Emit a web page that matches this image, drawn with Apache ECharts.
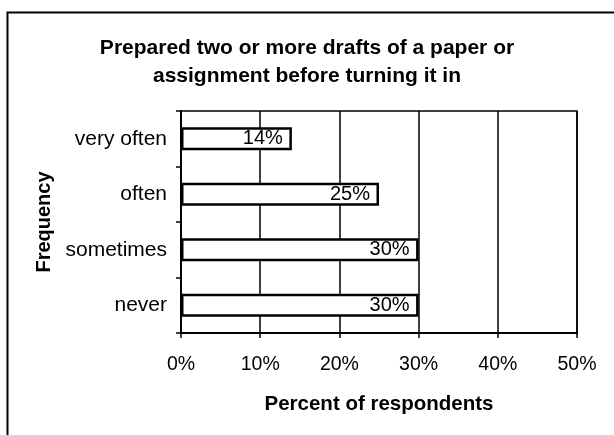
<!DOCTYPE html>
<html>
<head>
<meta charset="utf-8">
<script src="https://cdn.jsdelivr.net/npm/echarts@6/dist/echarts.min.js"></script>
<style>
  html, body { margin: 0; padding: 0; background: #fff; }
  #chart { width: 614px; height: 435px; }
</style>
</head>
<body>
<div id="chart"></div>
<script>
const categories = ["never", "sometimes", "often", "very often"];
const percents = [30, 30, 25, 14];
const tickLabels = ["0%", "10%", "20%", "30%", "40%", "50%"];

const font = "'Liberation Sans', Arial, sans-serif";
const chart = echarts.init(document.getElementById("chart"));

chart.setOption({
  backgroundColor: "#fff",
  animation: false,
  title: {
    text: "Prepared two or more drafts of a paper or\nassignment before turning it in",
    left: "center",
    top: 29,
    textStyle: {
      fontFamily: font,
      fontSize: 21,
      fontWeight: "bold",
      color: "#000",
      lineHeight: 28,
    },
  },
  graphic: [
    {
      type: "rect",
      left: 5,
      top: 10,
      shape: { width: 640, height: 460 },
      style: { fill: "none", stroke: "#000", lineWidth: 2 },
      silent: true,
    },
  ],
  grid: {
    left: 181,
    right: 37,
    top: 111,
    bottom: 102,
    show: true,
    borderColor: "#000",
    borderWidth: 1.5,
  },
  xAxis: {
    type: "value",
    min: 0,
    max: 50,
    interval: 10,
    name: "Percent of respondents",
    nameLocation: "middle",
    nameGap: 61,
    nameTextStyle: { fontFamily: font, fontSize: 20.5, fontWeight: "bold", color: "#000" },
    axisLine: { show: true, lineStyle: { color: "#000", width: 2 } },
    axisTick: { show: true, length: 5, lineStyle: { color: "#000", width: 1.5 } },
    axisLabel: {
      margin: 22,
      fontFamily: font,
      fontSize: 19.5,
      color: "#000",
      formatter: (v) => tickLabels[Math.round(v / 10)],
    },
    splitLine: { show: true, lineStyle: { color: "#000", width: 1.5 } },
  },
  yAxis: {
    type: "category",
    data: categories,
    name: "Frequency",
    nameLocation: "middle",
    nameGap: 127,
    nameRotate: 90,
    nameTextStyle: { fontFamily: font, fontSize: 20, fontWeight: "bold", color: "#000" },
    axisLine: { show: true, lineStyle: { color: "#000", width: 2 } },
    axisTick: { show: true, length: 5, lineStyle: { color: "#000", width: 1.5 } },
    axisLabel: { margin: 14, fontFamily: font, fontSize: 21, color: "#000" },
  },
  series: [
    {
      type: "bar",
      data: percents,
      barWidth: 23,
      itemStyle: { color: "#fff", borderColor: "#000", borderWidth: 2.5 },
      label: {
        show: true,
        position: "insideRight",
        distance: 9,
        fontFamily: font,
        fontSize: 20,
        color: "#000",
        formatter: (p) => p.value + "%",
      },
    },
  ],
});
</script>
</body>
</html>
